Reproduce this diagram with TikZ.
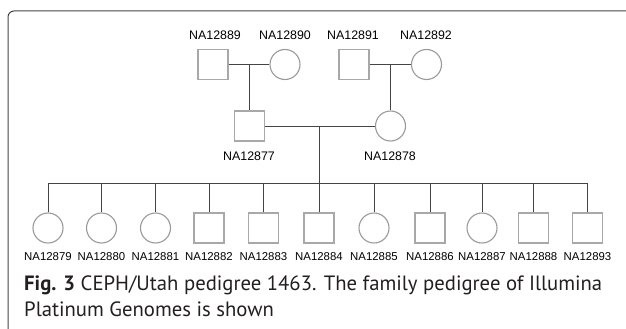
\documentclass[tikz,border=0pt]{standalone}
\usepackage{fontspec}
\newfontfamily\labfont{Liberation Sans}
\newfontfamily\capfont{PT Sans}
\definecolor{linec}{HTML}{444444}
\definecolor{shapec}{HTML}{A8A8A8}
\definecolor{circc}{HTML}{9A9A9A}
\definecolor{txtc}{HTML}{231F20}
\begin{document}
\begin{tikzpicture}[x=1pt,y=-1pt,
  male/.style={draw=shapec,line width=1.3pt,minimum size=30pt,inner sep=0pt,rectangle},
  female/.style={draw=circc,line width=1.1pt,minimum size=30pt,inner sep=0pt,circle},
  rel/.style={draw=linec,line width=1pt},
  toplab/.style={font=\labfont\fontsize{12.4}{14}\selectfont,inner sep=0pt},
  botlab/.style={font=\labfont\fontsize{11.4}{13}\selectfont,inner sep=0pt},
  capt/.style={font=\capfont\fontsize{20.7}{26}\selectfont,text=txtc,inner sep=0pt,anchor=base west},
  frame/.style={draw=linec,line width=1pt,rounded corners=6pt}]
\useasboundingbox (0,0) rectangle (626,329);
\draw[frame] (8,329) -- (8,11) -- (626,11);
% grandparents
\node[male] (g1) at (213,64.5) {};
\node[female] (g2) at (285,64.5) {};
\node[male] (g3) at (354,64.5) {};
\node[female] (g4) at (426.5,64.5) {};
\node[toplab] (lg1) at (215,35) {NA12889};
\node[toplab] (lg2) at (285,35) {NA12890};
\node[toplab] (lg3) at (353,35) {NA12891};
\node[toplab] (lg4) at (426,35) {NA12892};
% parents
\node[male] (p1) at (249.5,126) {};
\node[female] (p2) at (390.5,126) {};
\node[toplab] (lp1) at (249,156.5) {NA12877};
\node[toplab] (lp2) at (390,156.5) {NA12878};
\coordinate (m1) at (249.5,64.5);
\coordinate (m2) at (390.5,64.5);
\draw[rel] (g1) -- (g2);
\draw[rel] (g3) -- (g4);
\draw[rel] (m1) -- (p1.north);
\draw[rel] (m2) -- (p2.north);
\draw[rel] (p1) -- (p2);
\coordinate (m3) at (319,126);
\coordinate (sib) at (319,183);
\draw[rel] (m3) -- (sib);
% children
\foreach \x/\s/\n [count=\i] in {48/female/NA12879,101.5/female/NA12880,155.5/female/NA12881,209/male/NA12882,263.5/male/NA12883,319/male/NA12884,374/female/NA12885,430/male/NA12886,482/female/NA12887,533.5/male/NA12888,587.5/male/NA12893}{
  \node[\s] (k\i) at (\x,228) {};
  \node[botlab] (lk\i) at (\x,256.5) {\n};
  \draw[rel] (k\i.north) -- (k\i.north |- sib);
}
\draw[rel] (k1.north |- sib) -- (k11.north |- sib);
% caption
\node[capt] (cap1) at (24,290.7) {\textbf{Fig. 3} CEPH/Utah pedigree 1463. The family pedigree of Illumina};
\node[capt] (cap2) at (24,316.7) {Platinum Genomes is shown};
\end{tikzpicture}
\end{document}
